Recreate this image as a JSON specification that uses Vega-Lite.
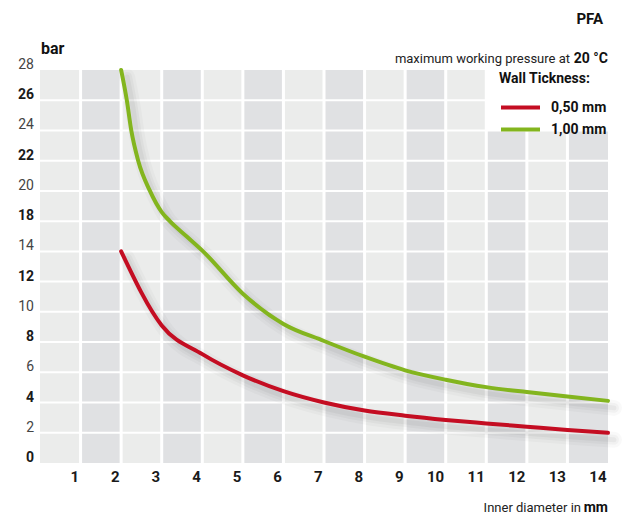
{
  "$schema": "https://vega.github.io/schema/vega-lite/v6.json",
  "width": 568,
  "height": 393,
  "autosize": {"type": "none"},
  "padding": {"left": 40, "top": 70, "right": 14, "bottom": 52},
  "background": "white",
  "config": {
    "font": "Roboto",
    "view": {"stroke": null},
    "axis": {"grid": false, "domain": false, "ticks": false, "labelOverlap": false, "labelFlush": false},
    "axisY": {"labels": false}
  },
  "datasets": {
    "columns": [
      {"x0": 0, "x1": 1, "top": 28, "shade": "light"},
      {"x0": 1, "x1": 2, "top": 28, "shade": "dark"},
      {"x0": 2, "x1": 3, "top": 28, "shade": "light"},
      {"x0": 3, "x1": 4, "top": 28, "shade": "dark"},
      {"x0": 4, "x1": 5, "top": 28, "shade": "light"},
      {"x0": 5, "x1": 6, "top": 28, "shade": "dark"},
      {"x0": 6, "x1": 7, "top": 28, "shade": "light"},
      {"x0": 7, "x1": 8, "top": 28, "shade": "dark"},
      {"x0": 8, "x1": 9, "top": 28, "shade": "light"},
      {"x0": 9, "x1": 10, "top": 28, "shade": "dark"},
      {"x0": 10, "x1": 11, "top": 28, "shade": "light"},
      {"x0": 11, "x1": 12, "top": 24, "shade": "dark"},
      {"x0": 12, "x1": 13, "top": 24, "shade": "light"},
      {"x0": 13, "x1": 14, "top": 24, "shade": "dark"}
    ],
    "xgrid": [{"v": 1}, {"v": 2}, {"v": 3}, {"v": 4}, {"v": 5}, {"v": 6}, {"v": 7}, {"v": 8}, {"v": 9}, {"v": 10}, {"v": 11}, {"v": 12}, {"v": 13}],
    "ygrid": [{"v": 2}, {"v": 4}, {"v": 6}, {"v": 8}, {"v": 10}, {"v": 12}, {"v": 14}, {"v": 18}, {"v": 20}, {"v": 22}, {"v": 24}, {"v": 26}],
    "ylabels": [{"v": 0}, {"v": 2}, {"v": 4}, {"v": 6}, {"v": 8}, {"v": 10}, {"v": 12}, {"v": 14}, {"v": 18}, {"v": 20}, {"v": 22}, {"v": 24}, {"v": 26}, {"v": 28}],
    "curves": [
      {"series": "0,50 mm", "d": 2, "p": 14},
      {"series": "0,50 mm", "d": 3, "p": 9.1},
      {"series": "0,50 mm", "d": 4, "p": 7.2},
      {"series": "0,50 mm", "d": 5, "p": 5.8},
      {"series": "0,50 mm", "d": 6, "p": 4.75},
      {"series": "0,50 mm", "d": 7, "p": 4.0},
      {"series": "0,50 mm", "d": 8, "p": 3.47},
      {"series": "0,50 mm", "d": 9, "p": 3.13},
      {"series": "0,50 mm", "d": 10, "p": 2.85},
      {"series": "0,50 mm", "d": 11, "p": 2.62},
      {"series": "0,50 mm", "d": 12, "p": 2.4},
      {"series": "0,50 mm", "d": 13, "p": 2.18},
      {"series": "0,50 mm", "d": 14, "p": 2.0},
      {"series": "1,00 mm", "d": 2, "p": 28},
      {"series": "1,00 mm", "d": 2.14, "p": 26},
      {"series": "1,00 mm", "d": 2.25, "p": 24},
      {"series": "1,00 mm", "d": 2.42, "p": 22},
      {"series": "1,00 mm", "d": 2.71, "p": 20},
      {"series": "1,00 mm", "d": 3, "p": 18.6},
      {"series": "1,00 mm", "d": 3.2, "p": 18},
      {"series": "1,00 mm", "d": 3.61, "p": 16},
      {"series": "1,00 mm", "d": 4.02, "p": 14},
      {"series": "1,00 mm", "d": 5, "p": 11.2},
      {"series": "1,00 mm", "d": 6, "p": 9.2},
      {"series": "1,00 mm", "d": 7, "p": 8.07},
      {"series": "1,00 mm", "d": 8, "p": 7.03},
      {"series": "1,00 mm", "d": 9, "p": 6.13},
      {"series": "1,00 mm", "d": 10, "p": 5.51},
      {"series": "1,00 mm", "d": 11, "p": 5.02},
      {"series": "1,00 mm", "d": 12, "p": 4.69},
      {"series": "1,00 mm", "d": 13, "p": 4.4},
      {"series": "1,00 mm", "d": 14, "p": 4.11}
    ]
  },
  "layer": [
    {
      "data": {"name": "columns"},
      "mark": {"type": "rect"},
      "encoding": {
        "x": {
          "field": "x0", "type": "quantitative",
          "scale": {"domain": [0, 14], "nice": false, "zero": false},
          "axis": {
            "values": [1, 2, 3, 4, 5, 6, 7, 8, 9, 10, 11, 12, 13, 14],
            "title": null,
            "labelAlign": "right",
            "labelBaseline": "top",
            "labelFlush": false,
            "labelOverlap": false,
            "labelOffset": -2,
            "labelPadding": 6,
            "labelFontSize": 15,
            "labelFontWeight": "bold",
            "labelColor": "#1a1a1a"
          }
        },
        "x2": {"field": "x1"},
        "y": {
          "field": "top", "type": "quantitative",
          "scale": {"domain": [0, 14, 18, 28], "range": [393, 181.38, 151.15, 0], "nice": false, "zero": false},
          "axis": {"values": [0, 2, 4, 6, 8, 10, 12, 14, 18, 20, 22, 24, 26, 28], "title": null, "labels": false}
        },
        "y2": {"datum": 0},
        "fill": {"field": "shade", "type": "nominal", "scale": {"domain": ["light", "dark"], "range": ["#ebeceb", "#e0e1e3"]}, "legend": null}
      }
    },
    {
      "data": {"name": "xgrid"},
      "mark": {"type": "rule", "color": "white", "strokeWidth": 3},
      "encoding": {"x": {"field": "v", "type": "quantitative"}}
    },
    {
      "data": {"name": "ygrid"},
      "mark": {"type": "rule", "color": "white", "strokeWidth": 2},
      "encoding": {"y": {"field": "v", "type": "quantitative"}}
    },
    {
      "data": {"name": "ylabels"},
      "transform": [{"filter": "(datum.v <= 14 && datum.v % 4 == 0) || (datum.v > 14 && datum.v % 4 == 2)"}],
      "mark": {"type": "text", "align": "right", "baseline": "alphabetic", "dx": -6, "dy": -1, "fontSize": 14, "fontWeight": "bold", "color": "#1a1a1a"},
      "encoding": {"x": {"datum": 0}, "y": {"field": "v", "type": "quantitative"}, "text": {"field": "v", "type": "quantitative"}}
    },
    {
      "data": {"name": "ylabels"},
      "transform": [{"filter": "!((datum.v <= 14 && datum.v % 4 == 0) || (datum.v > 14 && datum.v % 4 == 2))"}],
      "mark": {"type": "text", "align": "right", "baseline": "alphabetic", "dx": -6, "dy": -1, "fontSize": 14, "fontWeight": "normal", "color": "#444444"},
      "encoding": {"x": {"datum": 0}, "y": {"field": "v", "type": "quantitative"}, "text": {"field": "v", "type": "quantitative"}}
    },
    {
      "data": {"name": "curves"},
      "mark": {"type": "line", "interpolate": "monotone", "color": "#000", "opacity": 0.025, "strokeWidth": 16, "strokeCap": "round", "xOffset": 6, "yOffset": 7},
      "encoding": {
        "x": {"field": "d", "type": "quantitative"},
        "y": {"field": "p", "type": "quantitative"},
        "detail": {"field": "series"}
      }
    },
    {
      "data": {"name": "curves"},
      "mark": {"type": "line", "interpolate": "monotone", "color": "#000", "opacity": 0.03, "strokeWidth": 10, "strokeCap": "round", "xOffset": 6, "yOffset": 7},
      "encoding": {
        "x": {"field": "d", "type": "quantitative"},
        "y": {"field": "p", "type": "quantitative"},
        "detail": {"field": "series"}
      }
    },
    {
      "data": {"name": "curves"},
      "mark": {"type": "line", "interpolate": "monotone", "color": "#000", "opacity": 0.04, "strokeWidth": 5, "strokeCap": "round", "xOffset": 6, "yOffset": 7},
      "encoding": {
        "x": {"field": "d", "type": "quantitative"},
        "y": {"field": "p", "type": "quantitative"},
        "detail": {"field": "series"}
      }
    },
    {
      "data": {"name": "curves"},
      "mark": {"type": "line", "interpolate": "monotone", "strokeWidth": 4, "strokeCap": "round"},
      "encoding": {
        "x": {"field": "d", "type": "quantitative"},
        "y": {"field": "p", "type": "quantitative"},
        "color": {
          "field": "series", "type": "nominal",
          "scale": {"domain": ["0,50 mm", "1,00 mm"], "range": ["#c40d22", "#83b51e"]},
          "legend": {
            "title": "Wall Tickness:",
            "orient": "none",
            "legendX": 459,
            "legendY": 2,
            "direction": "vertical",
            "padding": 0,
            "symbolType": "M-1,0H5",
            "symbolSize": 169,
            "symbolStrokeWidth": 4,
            "symbolFillColor": "transparent",
            "titleFontSize": 14,
            "titleFontWeight": "bold",
            "titleColor": "#111",
            "titlePadding": 13,
            "labelFontSize": 14,
            "labelFontWeight": "bold",
            "labelColor": "#111",
            "labelOffset": 35,
            "rowPadding": 5
          }
        }
      }
    },
    {
      "data": {"values": [{"t": "PFA"}]},
      "mark": {"type": "text", "align": "right", "baseline": "middle", "dx": -5, "dy": -51, "fontSize": 15, "fontWeight": "bold", "color": "#111"},
      "encoding": {"x": {"datum": 14}, "y": {"datum": 28}, "text": {"field": "t"}}
    },
    {
      "data": {"values": [{"t": "maximum working pressure at"}]},
      "mark": {"type": "text", "align": "right", "baseline": "middle", "dx": -38, "dy": -11, "fontSize": 13, "color": "#222"},
      "encoding": {"x": {"datum": 14}, "y": {"datum": 28}, "text": {"field": "t"}}
    },
    {
      "data": {"values": [{"t": "20 °C"}]},
      "mark": {"type": "text", "align": "right", "baseline": "middle", "dx": 0, "dy": -11, "fontSize": 14, "fontWeight": "bold", "color": "#111"},
      "encoding": {"x": {"datum": 14}, "y": {"datum": 28}, "text": {"field": "t"}}
    },
    {
      "data": {"values": [{"t": "bar"}]},
      "mark": {"type": "text", "align": "left", "baseline": "middle", "dx": 1, "dy": -21, "fontSize": 16, "fontWeight": "bold", "color": "#111"},
      "encoding": {"x": {"datum": 0}, "y": {"datum": 28}, "text": {"field": "t"}}
    },
    {
      "data": {"values": [{"t": "Inner diameter in"}]},
      "mark": {"type": "text", "align": "right", "baseline": "middle", "dx": -27, "dy": 45, "fontSize": 13, "color": "#222"},
      "encoding": {"x": {"datum": 14}, "y": {"datum": 0}, "text": {"field": "t"}}
    },
    {
      "data": {"values": [{"t": "mm"}]},
      "mark": {"type": "text", "align": "right", "baseline": "middle", "dx": 0, "dy": 45, "fontSize": 14, "fontWeight": "bold", "color": "#111"},
      "encoding": {"x": {"datum": 14}, "y": {"datum": 0}, "text": {"field": "t"}}
    }
  ]
}
